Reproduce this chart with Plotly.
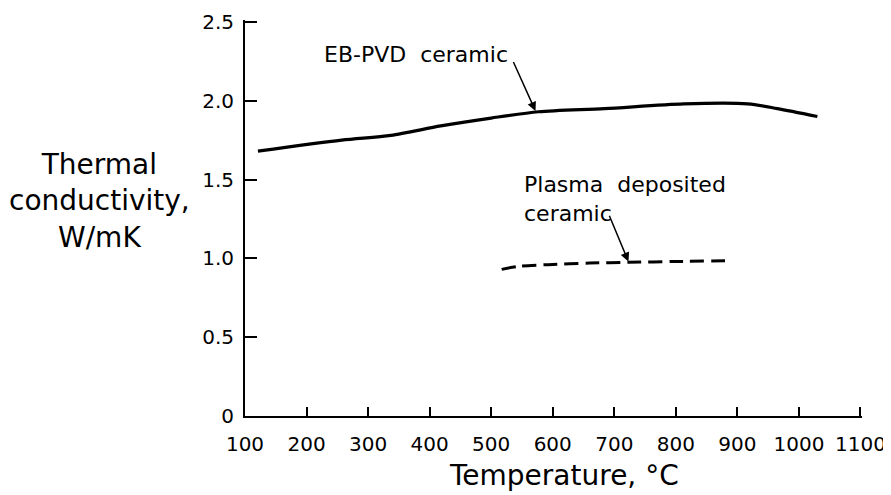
import plotly.graph_objects as go

# EB-PVD ceramic (solid)
eb_temp = [121, 257, 337, 418, 500, 577, 684, 813, 917, 965, 1030]
eb_k = [1.68, 1.75, 1.78, 1.84, 1.89, 1.93, 1.95, 1.98, 1.98, 1.95, 1.90]

# Plasma deposited ceramic (dashed)
pl_temp = [517, 545, 593, 660, 723, 800, 886]
pl_k = [0.93, 0.95, 0.96, 0.97, 0.975, 0.98, 0.985]

x_ticks = [100, 200, 300, 400, 500, 600, 700, 800, 900, 1000, 1100]
y_ticks = [0, 0.5, 1.0, 1.5, 2.0, 2.5]
y_ticktext = ["0", "0.5", "1.0", "1.5", "2.0", "2.5"]

FONT = "DejaVu Sans, Liberation Sans, Arial, sans-serif"

fig = go.Figure()
fig.add_trace(go.Scatter(x=eb_temp, y=eb_k, mode="lines",
                         line=dict(color="black", width=3.2, shape="spline", smoothing=0.8),
                         showlegend=False, hoverinfo="skip"))
fig.add_trace(go.Scatter(x=pl_temp, y=pl_k, mode="lines",
                         line=dict(color="black", width=3, dash="14px,7px", shape="spline", smoothing=0.8),
                         showlegend=False, hoverinfo="skip"))

fig.update_layout(
    width=891, height=495,
    margin=dict(l=237, r=37, t=12, b=87),
    paper_bgcolor="white", plot_bgcolor="white",
    font=dict(family=FONT, color="black"),
    xaxis=dict(range=[100, 1102.5], tickvals=x_ticks, ticktext=[str(v) for v in x_ticks],
               ticks="inside", ticklen=9, tickwidth=1.5, tickcolor="black",
               showline=True, linecolor="black", linewidth=2, showgrid=False, zeroline=False,
               tickfont=dict(size=20, family=FONT), ticklabelstandoff=9, automargin=False,
               ticklabeloverflow="allow"),
    yaxis=dict(range=[0, 2.512], tickvals=y_ticks, ticktext=y_ticktext,
               ticks="inside", ticklen=12, tickwidth=1.5, tickcolor="black",
               showline=True, linecolor="black", linewidth=2, showgrid=False, zeroline=False,
               tickfont=dict(size=20, family=FONT), ticklabelstandoff=5, automargin=False,
               ticklabeloverflow="allow"),
)

# Axis titles as annotations
fig.add_annotation(text="Thermal<br>conductivity,<br>W/mK", xref="paper", yref="paper",
                   x=-0.236, y=0.544, xanchor="center", yanchor="middle",
                   showarrow=False, align="center", font=dict(size=28, family=FONT))
fig.add_annotation(text="Temperature, °C", xref="paper", yref="paper",
                   x=0.517, y=-0.149, xanchor="center", yanchor="middle",
                   showarrow=False, font=dict(size=28, family=FONT))

# Curve labels
fig.add_annotation(text="EB-PVD  ceramic", x=225, y=2.296, xref="x", yref="y",
                   xanchor="left", yanchor="middle", showarrow=False, font=dict(size=22, family=FONT))
fig.add_annotation(x=572, y=1.935, ax=535, ay=2.255, axref="x", ayref="y", xref="x", yref="y",
                   text="", showarrow=True, arrowhead=2, arrowsize=1.2, arrowwidth=1.5, arrowcolor="black")
fig.add_annotation(text="Plasma  deposited<br>ceramic", x=550, y=1.379, xref="x", yref="y",
                   xanchor="left", yanchor="middle", align="left", showarrow=False,
                   font=dict(size=22, family=FONT))
fig.add_annotation(x=723, y=0.98, ax=691, ay=1.28, axref="x", ayref="y", xref="x", yref="y",
                   text="", showarrow=True, arrowhead=2, arrowsize=1.2, arrowwidth=1.5, arrowcolor="black")

fig.write_html("out.html")
